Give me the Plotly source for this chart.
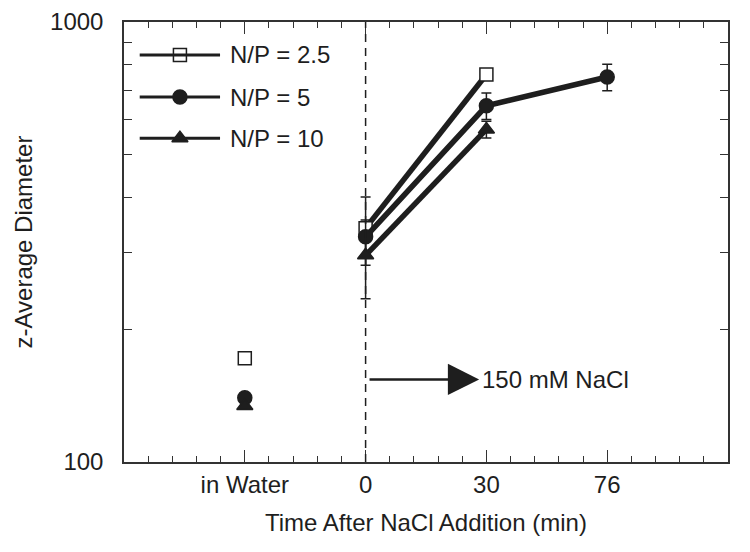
import math
import plotly.graph_objects as go

# ---- data ----
categories = ["in Water", "0", "30", "76"]
cat_pos = [1, 2, 3, 4]
series_names = ["N/P = 2.5", "N/P = 5", "N/P = 10"]

water_values = [172, 140, 134]                              # "in Water" values per series
salt_values = [[340, 760], [325, 645, 750], [295, 570]]     # at 0, 30, 76 min
salt_errors = [[60, 0], [0, 45, 52], [60, 25]]

y_minor = [200, 300, 400, 500, 600, 700, 800, 900]
arrow_label = "150 mM NaCl"
arrow_level = 154

INK = "#1e1e1e"
FONT = "Liberation Sans, Arial, sans-serif"
FS = 24
symbols = ["square", "circle", "triangle-up"]
fills = ["white", INK, INK]
msizes = [13, 14, 14]

fig = go.Figure()

for i, name in enumerate(series_names):
    mk = dict(symbol=symbols[i], size=msizes[i], color=fills[i],
              line=dict(color=INK, width=1.5))
    # in water point (not connected)
    fig.add_trace(go.Scatter(
        x=[cat_pos[0]], y=[water_values[i]], mode="markers", marker=mk,
        showlegend=False, cliponaxis=False))
    n = len(salt_values[i])
    fig.add_trace(go.Scatter(
        x=cat_pos[1:1 + n], y=salt_values[i], mode="lines+markers",
        line=dict(color=INK, width=5.5), marker=mk,
        error_y=dict(type="data", array=salt_errors[i], visible=True,
                     color=INK, thickness=1.5, width=5),
        showlegend=False, cliponaxis=False))

# ---- manual legend (paper-coordinate overlay axes) ----
leg_rows = [0.925, 0.8295, 0.736]
for i, name in enumerate(series_names):
    fig.add_shape(type="line", xref="paper", yref="paper",
                  x0=0.026, x1=0.159, y0=leg_rows[i], y1=leg_rows[i],
                  line=dict(color=INK, width=3))
    fig.add_trace(go.Scatter(
        x=[0.0926], y=[leg_rows[i]], xaxis="x2", yaxis="y2", mode="markers",
        marker=dict(symbol=symbols[i], size=msizes[i], color=fills[i],
                    line=dict(color=INK, width=1.5)),
        showlegend=False, hoverinfo="skip"))
    fig.add_annotation(xref="paper", yref="paper", x=0.172, y=leg_rows[i],
                       text=name, showarrow=False, xanchor="left", yanchor="middle",
                       font=dict(size=FS, color=INK, family=FONT))

# dashed line at t = 0
fig.add_shape(type="line", xref="x", yref="paper", x0=cat_pos[1], x1=cat_pos[1],
              y0=0, y1=1, line=dict(color=INK, width=1.5, dash="8px,6px"))

# arrow + label
fig.add_annotation(x=2.94, y=math.log10(arrow_level), ax=2.02, ay=math.log10(arrow_level),
                   xref="x", yref="y", axref="x", ayref="y", text="",
                   showarrow=True, arrowhead=2, arrowsize=2.5, arrowwidth=2.5,
                   arrowcolor=INK)
fig.add_annotation(x=2.95, y=math.log10(arrow_level), xref="x", yref="y", text=arrow_label,
                   showarrow=False, xanchor="left", yanchor="middle",
                   font=dict(size=FS, color=INK, family=FONT))

# axis titles as annotations (precise placement)
fig.add_annotation(xref="paper", yref="paper", x=0.5, y=-0.138, yanchor="middle",
                   text="Time After NaCl Addition (min)", showarrow=False,
                   font=dict(size=FS, color=INK, family=FONT))
fig.add_annotation(xref="paper", yref="paper", x=-0.168, y=0.5, xanchor="center",
                   yanchor="middle", textangle=-90,
                   text="z-Average Diameter", showarrow=False,
                   font=dict(size=FS, color=INK, family=FONT))

axis_common = dict(showline=True, linecolor="#333", linewidth=1.5, mirror="ticks",
                   ticks="inside", tickcolor="#333", tickwidth=1.2,
                   showgrid=False, zeroline=False, automargin=False,
                   tickfont=dict(size=FS, color=INK, family=FONT))

fig.update_layout(
    width=750, height=552,
    margin=dict(l=124, r=22, t=22, b=90),
    paper_bgcolor="white", plot_bgcolor="white",
    showlegend=False,
    font=dict(family=FONT, size=FS, color=INK),
    xaxis=dict(range=[0, 5], tickmode="array", tickvals=cat_pos, ticktext=categories,
               ticklen=12,
               minor=dict(tickmode="linear", tick0=0, dtick=0.2, ticks="inside",
                          ticklen=6, tickcolor="#333", tickwidth=1.2),
               **axis_common),
    yaxis=dict(type="log", range=[2, 3], tickmode="array", tickvals=[100, 1000],
               ticktext=["100", "1000"], ticklen=8, ticklabelstandoff=14,
               minor=dict(tickmode="array", tickvals=y_minor, ticks="inside",
                          ticklen=8, tickcolor="#333", tickwidth=1.2),
               **axis_common),
    xaxis2=dict(range=[0, 1], overlaying="x", visible=False, fixedrange=True),
    yaxis2=dict(range=[0, 1], overlaying="y", visible=False, fixedrange=True),
)

fig.write_html("out.html", config={"displayModeBar": False},
               post_script="document.body.style.margin='0';document.body.style.overflow='hidden';")
